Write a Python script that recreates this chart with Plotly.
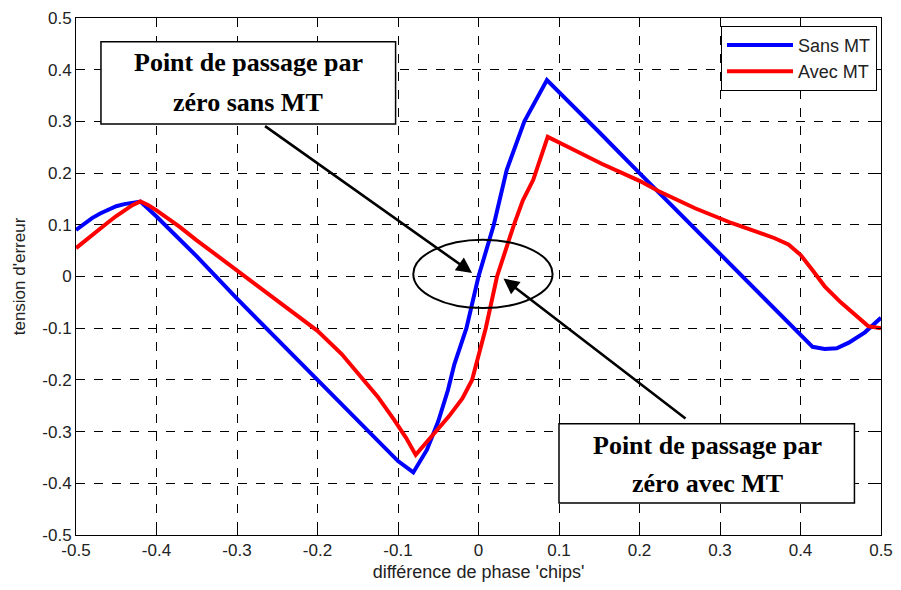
import plotly.graph_objects as go

# ---- data ----
sans_x = [-0.5, -0.49, -0.48, -0.47, -0.46, -0.45, -0.44, -0.43, -0.42, -0.40, -0.35,
          -0.30, -0.25, -0.20, -0.15, -0.12, -0.10, -0.081, -0.064, -0.05, -0.038,
          -0.03, -0.015, 0.0, 0.019, 0.035, 0.057, 0.085, 0.10, 0.15, 0.20, 0.25,
          0.30, 0.35, 0.368, 0.40, 0.415, 0.43, 0.445, 0.46, 0.48, 0.50]
sans_y = [0.090, 0.102, 0.113, 0.122, 0.130, 0.136, 0.140, 0.143, 0.145, 0.116, 0.039,
          -0.043, -0.122, -0.200, -0.278, -0.325, -0.357, -0.379, -0.335, -0.280, -0.220,
          -0.170, -0.100, 0.000, 0.100, 0.206, 0.300, 0.380, 0.357, 0.279, 0.200, 0.122,
          0.043, -0.035, -0.062, -0.112, -0.136, -0.140, -0.139, -0.128, -0.108, -0.080]

avec_x = [-0.5, -0.49, -0.48, -0.47, -0.46, -0.45, -0.44, -0.43, -0.42, -0.41, -0.40,
          -0.372, -0.35, -0.32, -0.29, -0.25, -0.20, -0.17, -0.146, -0.125, -0.105,
          -0.09, -0.078, -0.065, -0.055, -0.037, -0.02, -0.008, 0.009, 0.023, 0.044,
          0.055, 0.068, 0.086, 0.112, 0.153, 0.20, 0.224, 0.269, 0.30, 0.315, 0.33,
          0.35, 0.368, 0.385, 0.40, 0.415, 0.43, 0.45, 0.464, 0.484, 0.50]
avec_y = [0.055, 0.068, 0.080, 0.093, 0.105, 0.117, 0.128, 0.138, 0.145, 0.138, 0.128,
          0.097, 0.070, 0.035, 0.000, -0.045, -0.105, -0.150, -0.193, -0.233, -0.277,
          -0.312, -0.345, -0.322, -0.303, -0.271, -0.236, -0.200, -0.100, 0.000, 0.100,
          0.147, 0.187, 0.270, 0.250, 0.218, 0.185, 0.165, 0.132, 0.112, 0.103, 0.095,
          0.085, 0.074, 0.062, 0.042, 0.012, -0.019, -0.050, -0.069, -0.096, -0.100]

tick_vals = [-0.5, -0.4, -0.3, -0.2, -0.1, 0, 0.1, 0.2, 0.3, 0.4, 0.5]
tick_text = ["-0.5", "-0.4", "-0.3", "-0.2", "-0.1", "0", "0.1", "0.2", "0.3", "0.4", "0.5"]

box1_lines = ["Point de passage par", "zéro sans MT"]
box2_lines = ["Point de passage par", "zéro avec MT"]

# ---- figure ----
fig = go.Figure()
fig.add_trace(go.Scatter(x=sans_x, y=sans_y, mode="lines", name="Sans MT",
                         line=dict(color="#0000ff", width=4)))
fig.add_trace(go.Scatter(x=avec_x, y=avec_y, mode="lines", name="Avec MT",
                         line=dict(color="#ff0000", width=4)))

axis_common = dict(
    range=[-0.5, 0.5], tickvals=tick_vals, ticktext=tick_text,
    showline=True, linecolor="black", linewidth=1, mirror="allticks",
    ticks="inside", ticklen=5, tickcolor="black",
    showgrid=True, gridcolor="black", gridwidth=1, griddash="dash",
    zeroline=False, automargin=False,
    tickfont=dict(family="Liberation Sans, Arial", size=17, color="#222"),
)

fig.update_xaxes(**axis_common,
                 title=dict(text="différence de phase 'chips'", standoff=9,
                            font=dict(family="Liberation Sans, Arial", size=18, color="#222")))
fig.update_yaxes(**axis_common,
                 title=dict(text="tension d'erreur", standoff=12,
                            font=dict(family="Liberation Sans, Arial", size=17, color="#222")))

# text boxes
fig.add_shape(type="rect", x0=-0.469, x1=-0.103, y0=0.295, y1=0.454,
              line=dict(color="black", width=1.5), fillcolor="white", layer="above")
fig.add_shape(type="rect", x0=0.100, x1=0.467, y0=-0.438, y1=-0.285,
              line=dict(color="black", width=1.5), fillcolor="white", layer="above")
# ellipse
fig.add_shape(type="circle", x0=-0.081, x1=0.092, y0=-0.061, y1=0.071,
              line=dict(color="black", width=2), layer="above")

tfont = dict(family="Liberation Serif, Times New Roman", size=26, color="black")
fig.add_annotation(x=-0.286, y=0.414, text="<b>%s</b>" % box1_lines[0], showarrow=False, font=tfont)
fig.add_annotation(x=-0.286, y=0.336, text="<b>%s</b>" % box1_lines[1], showarrow=False, font=tfont)
fig.add_annotation(x=0.284, y=-0.327, text="<b>%s</b>" % box2_lines[0], showarrow=False, font=tfont)
fig.add_annotation(x=0.284, y=-0.401, text="<b>%s</b>" % box2_lines[1], showarrow=False, font=tfont)

# arrows
fig.add_annotation(x=-0.008, y=0.007, ax=-0.267, ay=0.293, axref="x", ayref="y",
                   text="", showarrow=True, arrowhead=2, arrowsize=1.2, arrowwidth=2.6,
                   arrowcolor="black")
fig.add_annotation(x=0.031, y=-0.004, ax=0.259, ay=-0.277, axref="x", ayref="y",
                   text="", showarrow=True, arrowhead=2, arrowsize=1.2, arrowwidth=2.6,
                   arrowcolor="black")

fig.update_layout(
    width=885, height=574,
    margin=dict(l=68, r=12, t=10, b=47),
    paper_bgcolor="white", plot_bgcolor="white",
    showlegend=True,
    legend=dict(x=0.995, y=0.985, xanchor="right", yanchor="top",
                bgcolor="white", bordercolor="black", borderwidth=1,
                itemwidth=66, tracegroupgap=0,
                font=dict(family="Liberation Sans, Arial", size=18, color="#222")),
)

fig.write_html("out.html")
